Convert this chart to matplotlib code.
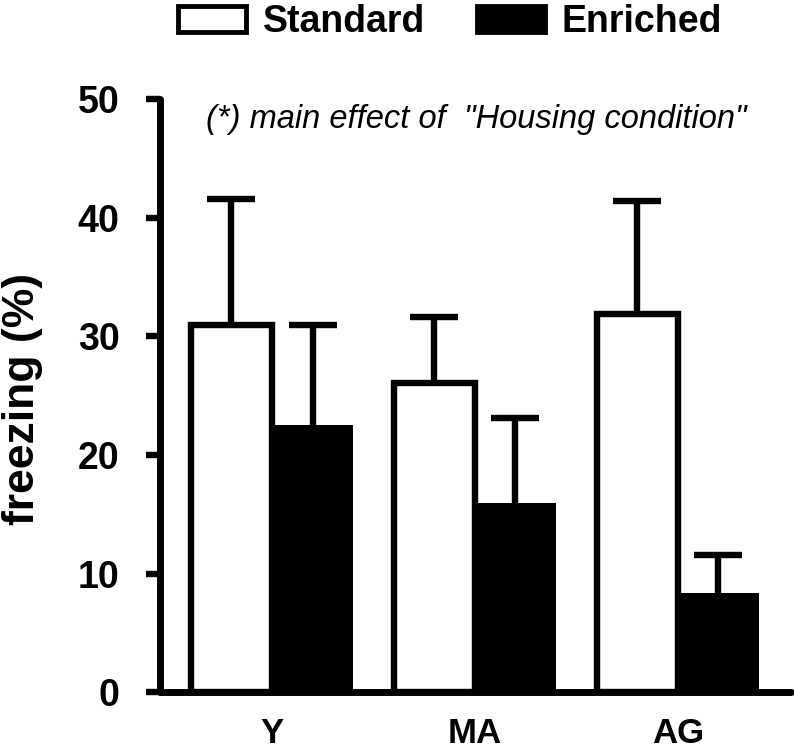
import matplotlib
matplotlib.use("Agg")
import matplotlib.pyplot as plt
import numpy as np
from matplotlib.patches import Patch

plt.rcParams["font.family"] = ["Liberation Sans", "DejaVu Sans"]

groups = ["Y", "MA", "AG"]
standard_mean = [31.0, 26.1, 31.9]
standard_err = [10.6, 5.5, 9.5]
enriched_mean = [22.5, 16.0, 8.4]
enriched_err = [8.5, 7.1, 3.2]

x = np.arange(len(groups))
width = 0.4
lw = 4.6

fig = plt.figure(figsize=(7.94, 7.55), dpi=100)
ax = fig.add_axes([0.2015, 0.0828, 0.7945, 0.786])

ax.bar(x - width / 2, standard_mean, width, color="white", edgecolor="black",
       linewidth=lw, zorder=2)
ax.bar(x + width / 2, enriched_mean, width, color="black", edgecolor="black",
       linewidth=0, zorder=3)

# upper error only: hide the lower cap that errorbar draws at the bar top
err_style = dict(fmt="none", ecolor="black", elinewidth=lw, capsize=17,
                 capthick=lw, zorder=1)
for xs, means, errs in [(x - width / 2, standard_mean, standard_err),
                        (x + width / 2, enriched_mean, enriched_err)]:
    eb = ax.errorbar(xs, means, yerr=[np.zeros(len(groups)), errs], **err_style)
    eb[1][0].set_visible(False)
    for cap in eb[1]:
        cap.set_solid_capstyle("round")

ax.set_xlim(-0.552, 2.557)
ax.set_ylim(0, 50)
ax.set_yticks([0, 10, 20, 30, 40, 50])
ax.set_xticks(x)
ax.set_xticklabels(groups)

for side in ["top", "right"]:
    ax.spines[side].set_visible(False)
for side in ["left", "bottom"]:
    ax.spines[side].set_linewidth(5)
    ax.spines[side].set_capstyle("round")

ax.tick_params(axis="y", length=10, width=4.6, pad=19, labelsize=27)
ax.tick_params(axis="x", length=0, pad=18, labelsize=25)
for lab in ax.get_xticklabels() + ax.get_yticklabels():
    lab.set_fontweight("bold")

ax.set_ylabel("freezing (%)", fontsize=32, fontweight="bold")
ax.yaxis.set_label_coords(-0.185, 0.495)

ax.text(0.502, 0.965, "(*) main effect of  \"Housing condition\"",
        transform=ax.transAxes, ha="center", va="center",
        fontsize=23.5, style="italic")

handles = [Patch(facecolor="white", edgecolor="black", linewidth=3.5),
           Patch(facecolor="black", edgecolor="black", linewidth=3.5)]
fig.legend(handles, ["Standard", "Enriched"], loc="center",
           bbox_to_anchor=(0.567, 0.971), ncol=2, frameon=False,
           prop=dict(size=27, weight="bold"), handlelength=1.8,
           handleheight=0.7, handletextpad=0.45, columnspacing=1.4,
           borderpad=0, borderaxespad=0)

fig.savefig("out.png", dpi=100)
